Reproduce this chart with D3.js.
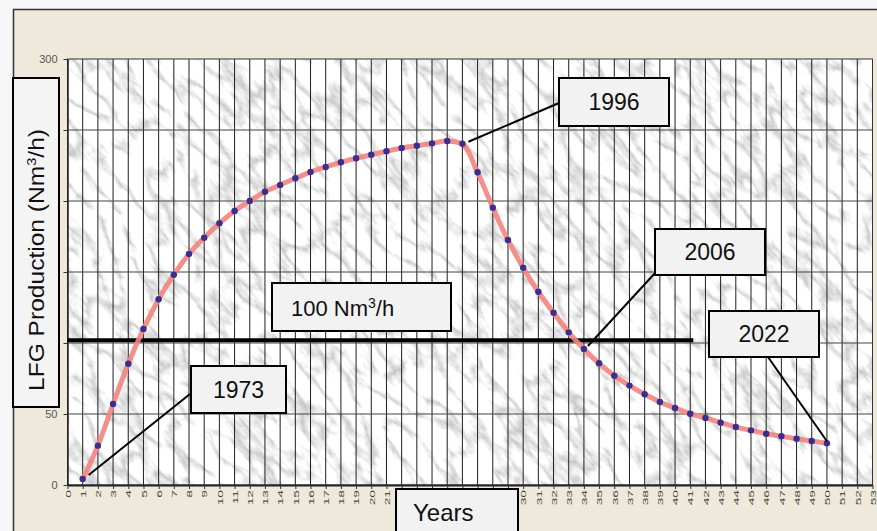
<!DOCTYPE html>
<html>
<head>
<meta charset="utf-8">
<script src="https://cdn.jsdelivr.net/npm/d3@7"></script>
<style>
  body { margin: 0; background: #f3f3f3; }
  svg { display: block; font-family: Arial, "Liberation Sans", sans-serif; }
</style>
</head>
<body>
<svg id="chart" width="877" height="531"></svg>
<script>
// data
const years = [1, 2, 3, 4, 5, 6, 7, 8, 9, 10, 11, 12, 13, 14, 15, 16, 17, 18, 19, 20,
  21, 22, 23, 24, 25, 26, 27, 28, 29, 30, 31, 32, 33, 34, 35, 36, 37, 38, 39, 40,
  41, 42, 43, 44, 45, 46, 47, 48, 49, 50];
const production = [4.2, 27.7, 57.0, 85.4, 109.9, 130.8, 148.1, 162.7, 174.2, 184.3,
  193.0, 200.0, 206.5, 211.3, 216.0, 220.4, 223.9, 227.3, 230.1, 232.6,
  235.0, 237.3, 238.9, 240.6, 242.3, 240.3, 220.2, 195.3, 172.5, 153.0,
  136.1, 121.3, 107.5, 95.8, 85.7, 77.0, 70.0, 63.9, 58.5, 54.2,
  50.2, 47.2, 43.9, 40.8, 38.5, 36.1, 34.3, 32.6, 31.0, 29.4];
const xTicks = [0, 1, 2, 3, 4, 5, 6, 7, 8, 9, 10, 11, 12, 13, 14, 15, 16, 17, 18, 19, 20,
  21, 22, 23, 24, 25, 26, 27, 28, 29, 30, 31, 32, 33, 34, 35, 36, 37, 38, 39, 40,
  41, 42, 43, 44, 45, 46, 47, 48, 49, 50, 51, 52, 53];
const yTicks = [0, 50, 100, 150, 200, 250, 300];
const calloutLabels = ["1973", "1996", "2006", "2022"];
const calloutYears = [1, 26, 34, 50];
const thresholdValue = 102;
const thresholdEndYear = 41.2;

const svg = d3.select("#chart");
const plot = { left: 67.5, right: 872.5, top: 59, bottom: 485 };

const x = d3.scaleLinear().domain([0, 53]).range([plot.left, plot.right]);
const y = d3.scaleLinear().domain([0, 300]).range([plot.bottom, plot.top]);

// marble texture filter
const defs = svg.append("defs");
const f = defs.append("filter").attr("id", "marble")
  .attr("x", 0).attr("y", 0).attr("width", 1).attr("height", 1);
f.append("feTurbulence").attr("type", "turbulence")
  .attr("baseFrequency", "0.05 0.02").attr("numOctaves", 5).attr("seed", 3);
f.append("feColorMatrix").attr("type", "matrix")
  .attr("values", "1.5 0 0 0 0.5  1.5 0 0 0 0.5  1.5 0 0 0 0.5  0 0 0 0 1");
defs.append("clipPath").attr("id", "plotClip")
  .append("rect").attr("x", plot.left).attr("y", plot.top)
  .attr("width", plot.right - plot.left).attr("height", plot.bottom - plot.top);

// outer frame
svg.append("rect").attr("x", 0).attr("y", 0).attr("width", 877).attr("height", 531).attr("fill", "#f6f6f6");
svg.append("rect").attr("x", 13.5).attr("y", 9.5).attr("width", 880).attr("height", 540)
  .attr("fill", "#efe9dc").attr("stroke", "#333").attr("stroke-width", 1.5);

// plot background
const bg = svg.append("g").attr("clip-path", "url(#plotClip)");
bg.append("rect").attr("x", plot.left).attr("y", plot.top)
  .attr("width", plot.right - plot.left).attr("height", plot.bottom - plot.top).attr("fill", "#e0e0e0");
bg.append("g")
  .attr("transform", `rotate(-40 ${(plot.left + plot.right) / 2} ${(plot.top + plot.bottom) / 2})`)
  .append("rect")
  .attr("x", plot.left - 250).attr("y", plot.top - 400)
  .attr("width", plot.right - plot.left + 500).attr("height", plot.bottom - plot.top + 800)
  .attr("filter", "url(#marble)");

// grid
svg.append("g").selectAll("line").data(xTicks.filter(d => d > 0)).enter().append("line")
  .attr("x1", d => x(d)).attr("x2", d => x(d))
  .attr("y1", plot.top).attr("y2", plot.bottom)
  .attr("stroke", "#1e1e1e").attr("stroke-width", 1);
svg.append("g").selectAll("line").data(yTicks.filter(d => d > 0 && d < 300)).enter().append("line")
  .attr("x1", plot.left).attr("x2", plot.right)
  .attr("y1", d => y(d)).attr("y2", d => y(d))
  .attr("stroke", "#444").attr("stroke-width", 1.2);
svg.append("rect").attr("x", plot.left).attr("y", plot.top)
  .attr("width", plot.right - plot.left).attr("height", plot.bottom - plot.top)
  .attr("fill", "none").attr("stroke", "#333").attr("stroke-width", 1);

// axes
const xAxis = svg.append("g")
  .attr("transform", `translate(0,${plot.bottom})`)
  .call(d3.axisBottom(x).tickValues(xTicks).tickSize(4).tickSizeOuter(0).tickFormat(d3.format("d")));
xAxis.select(".domain").attr("stroke", "#222").attr("stroke-width", 2);
xAxis.selectAll(".tick line").attr("stroke", "#333");
xAxis.selectAll("text")
  .attr("fill", "#4a4a4a")
  .style("font-size", "12px")
  .attr("text-anchor", "end")
  .attr("x", 0).attr("y", 0).attr("dy", "0.35em")
  .attr("transform", "translate(0,5) rotate(-90) scale(1.15,0.65)");

const yAxis = svg.append("g")
  .attr("transform", `translate(${plot.left},0)`)
  .call(d3.axisLeft(y).tickValues(yTicks).tickSize(4).tickSizeOuter(0));
yAxis.select(".domain").attr("stroke", "#222").attr("stroke-width", 1.5);
yAxis.selectAll(".tick line").attr("stroke", "#333");
yAxis.selectAll("text").attr("fill", "#555").style("font-size", "11px").attr("x", -10);

// threshold line
svg.append("line")
  .attr("x1", x(0)).attr("x2", x(thresholdEndYear))
  .attr("y1", y(thresholdValue)).attr("y2", y(thresholdValue))
  .attr("stroke", "#000").attr("stroke-width", 4);

// production curve
const pts = years.map((yr, i) => ({ year: yr, value: production[i] }));
const line = d3.line().x(d => x(d.year)).y(d => y(d.value)).curve(d3.curveMonotoneX);
svg.append("path").datum(pts)
  .attr("d", line)
  .attr("fill", "none").attr("stroke", "#f4837e").attr("stroke-width", 5)
  .attr("stroke-opacity", 0.9);
svg.append("g").selectAll("circle").data(pts).enter().append("circle")
  .attr("cx", d => x(d.year)).attr("cy", d => y(d.value))
  .attr("r", 3.2).attr("fill", "#3a2f8e");

// callouts
const boxes = [
  { x: 191, y: 366, w: 95, h: 47, sx: 190, sy: 394, dx: 6, dy: -4 },
  { x: 559, y: 78, w: 110, h: 48, sx: 559, sy: 103, dx: 6, dy: -2 },
  { x: 655, y: 229, w: 110, h: 46, sx: 656, sy: 272, dx: 4, dy: -3 },
  { x: 709, y: 311, w: 110, h: 46, sx: 768, sy: 357, dx: 0, dy: -2 }
];
calloutLabels.forEach((label, i) => {
  const b = boxes[i];
  const yr = calloutYears[i];
  const v = production[years.indexOf(yr)];
  svg.append("line")
    .attr("x1", b.sx).attr("y1", b.sy)
    .attr("x2", x(yr) + b.dx).attr("y2", y(v) + b.dy)
    .attr("stroke", "#000").attr("stroke-width", 2);
  svg.append("rect").attr("x", b.x).attr("y", b.y).attr("width", b.w).attr("height", b.h)
    .attr("fill", "#f2f2f2").attr("stroke", "#000").attr("stroke-width", 2);
  svg.append("text").attr("x", b.x + b.w / 2).attr("y", b.y + b.h / 2 + 8)
    .attr("text-anchor", "middle").style("font-size", "23px").attr("fill", "#111")
    .text(label);
});

// threshold label
svg.append("rect").attr("x", 272).attr("y", 283).attr("width", 179).attr("height", 48)
  .attr("fill", "#f2f2f2").attr("stroke", "#000").attr("stroke-width", 2);
const tl = svg.append("text").attr("x", 291).attr("y", 316)
  .style("font-size", "22px").attr("fill", "#111");
tl.append("tspan").text("100 Nm");
tl.append("tspan").attr("dy", -8).style("font-size", "14px").text("3");
tl.append("tspan").attr("dy", 8).text("/h");

// y axis title box
svg.append("rect").attr("x", 13).attr("y", 78).attr("width", 46).attr("height", 329)
  .attr("fill", "#f4f4f4").attr("stroke", "#000").attr("stroke-width", 2);
const yt = svg.append("text")
  .attr("transform", "translate(44,260) rotate(-90)")
  .attr("text-anchor", "middle")
  .attr("textLength", 262).attr("lengthAdjust", "spacingAndGlyphs")
  .style("font-size", "22px").attr("fill", "#111");
yt.append("tspan").text("LFG Production (Nm");
yt.append("tspan").attr("dy", -8).style("font-size", "13px").text("3");
yt.append("tspan").attr("dy", 8).text("/h)");

// x axis title box
svg.append("rect").attr("x", 396).attr("y", 489).attr("width", 122).attr("height", 60)
  .attr("fill", "#f2f2f2").attr("stroke", "#000").attr("stroke-width", 2);
svg.append("text").attr("x", 413).attr("y", 521)
  .style("font-size", "24px").attr("fill", "#111").text("Years");
</script>
</body>
</html>
